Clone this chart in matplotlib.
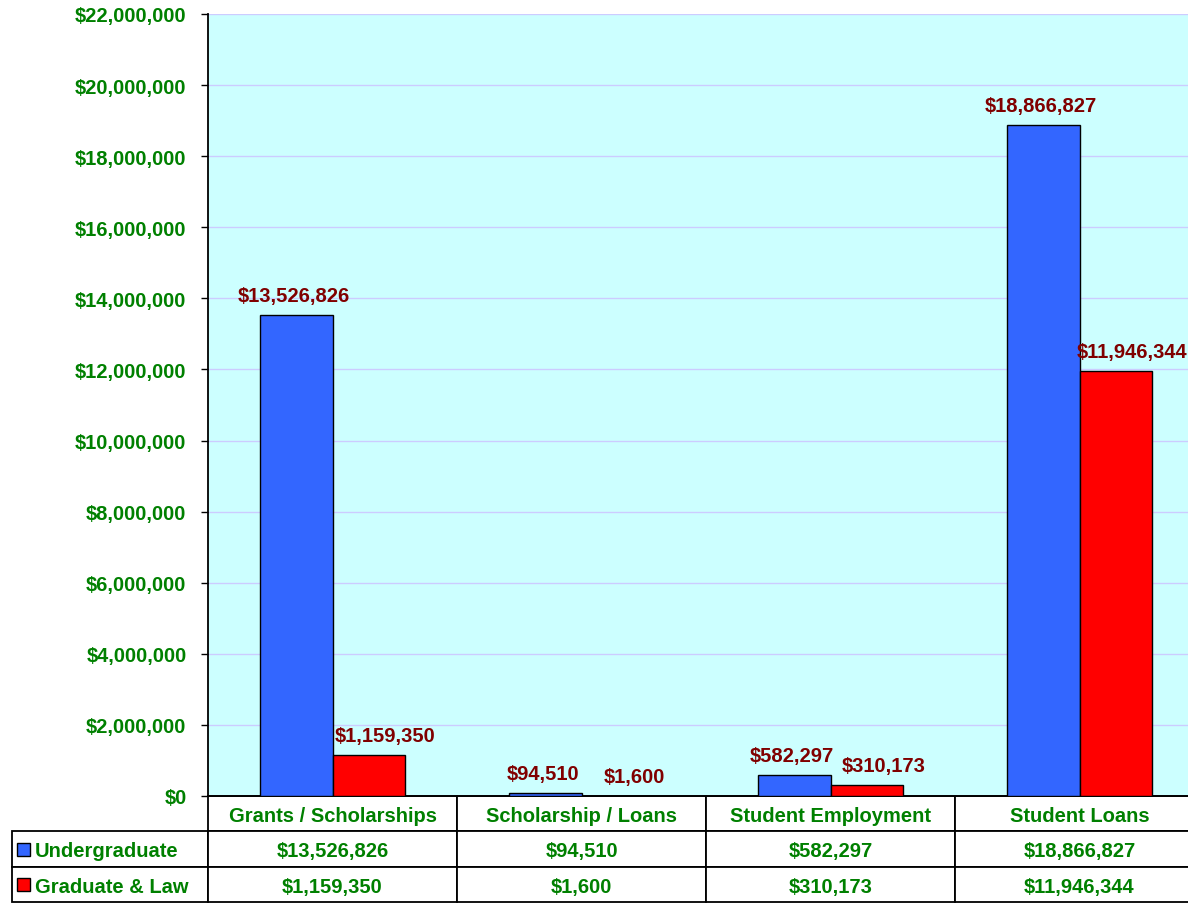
import matplotlib
matplotlib.use("Agg")
import matplotlib.pyplot as plt
from matplotlib.patches import Rectangle
from matplotlib.table import Table
from matplotlib.ticker import FuncFormatter, MultipleLocator
import numpy as np

categories = ["Grants / Scholarships", "Scholarship / Loans", "Student Employment", "Student Loans"]
series_names = ["Undergraduate", "Graduate & Law"]
undergrad = [13526826, 94510, 582297, 18866827]
grad_law = [1159350, 1600, 310173, 11946344]

BLUE = "#3366FF"
RED = "#FF0000"
GREEN = "#008000"
DARKRED = "#800000"
FONT = "Liberation Sans"
FS = 14.5

W, H = 1188, 904
fig = plt.figure(figsize=(W / 100, H / 100), dpi=100)
fig.patch.set_facecolor("white")

ax_l, ax_b, ax_w, ax_h = 208, 107, 996, 782
ax = fig.add_axes([ax_l / W, ax_b / H, ax_w / W, ax_h / H])
ax.set_facecolor("#CCFFFF")

x = np.arange(len(categories))
bw = 0.29
b1 = ax.bar(x - bw / 2, undergrad, bw, color=BLUE, edgecolor="black", linewidth=1.0, zorder=3)
b2 = ax.bar(x + bw / 2, grad_law, bw, color=RED, edgecolor="black", linewidth=1.0, zorder=3)

for bars, vals, dx in ((b1, undergrad, -2), (b2, grad_law, 12)):
    for rect, v in zip(bars, vals):
        ax.annotate(f"${v:,.0f}", (rect.get_x() + rect.get_width() / 2, v),
                    xytext=(dx, 10), textcoords="offset points",
                    ha="center", va="baseline", color=DARKRED,
                    fontsize=FS, fontweight="bold", family=FONT,
                    annotation_clip=False, zorder=4)

ax.set_xlim(-0.5, len(categories) - 0.5)
ax.set_ylim(0, 22000000)
ax.yaxis.set_major_locator(MultipleLocator(2000000))
ax.yaxis.set_major_formatter(FuncFormatter(lambda v, p: f"${v:,.0f}"))
ax.yaxis.grid(True, color="#CCCCFF", linewidth=1.0)
ax.set_axisbelow(True)
ax.set_xticks([])
ax.tick_params(axis="y", direction="out", length=5, width=1, color="black",
               pad=10.5, labelcolor=GREEN, labelsize=FS)
for lab in ax.get_yticklabels():
    lab.set_fontweight("bold")
    lab.set_family(FONT)
for s in ("top", "right"):
    ax.spines[s].set_visible(False)
ax.spines["left"].set_linewidth(1.3)
ax.spines["bottom"].set_linewidth(1.3)

# data table below the axes (data cells fill the axes width; row labels sit to the left)
label_w = 196 / ax_w
col_w = 1.0 / len(categories)
tab_h = 106
rh = 1.0 / 3
cell_text = [[f"${v:,.0f}" for v in undergrad], [f"${v:,.0f}" for v in grad_law]]
tbl = Table(ax, bbox=[0, -tab_h / ax_h, 1.0, tab_h / ax_h])
tbl.auto_set_font_size(False)


def style(cell):
    cell.set_edgecolor("black")
    cell.set_linewidth(1.3)
    cell.set_facecolor("white")
    t = cell.get_text()
    t.set_color(GREEN)
    t.set_fontweight("bold")
    t.set_family(FONT)
    t.set_fontsize(FS)
    t.set_verticalalignment("center_baseline")


for j, cat in enumerate(categories):
    style(tbl.add_cell(0, j, col_w, rh, text=cat, loc="center"))
for i, name in enumerate(series_names):
    c = tbl.add_cell(i + 1, -1, label_w, rh, text=name, loc="left")
    c.PAD = 23 / 196
    style(c)
    for j in range(len(categories)):
        style(tbl.add_cell(i + 1, j, col_w, rh, text=cell_text[i][j], loc="center"))
ax.add_table(tbl)

# legend keys in row label cells
row_h = tab_h / 3
for i, col in enumerate((BLUE, RED)):
    cy = ax_b - row_h * (1.5 + i)
    fig.add_artist(Rectangle((17 / W, (cy - 6.5) / H), 13 / W, 13 / H,
                             transform=fig.transFigure, facecolor=col,
                             edgecolor="black", linewidth=1.0, zorder=5))

fig.savefig("out.png", dpi=100)
